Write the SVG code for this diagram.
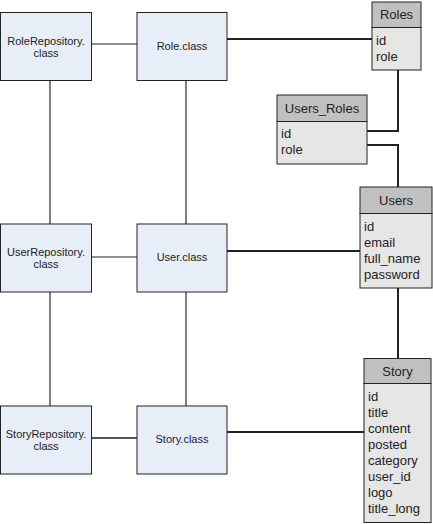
<svg xmlns="http://www.w3.org/2000/svg" width="433" height="524" viewBox="0 0 433 524">
<style>
.cls{fill:#e8eef8;stroke:#222;stroke-width:1}
.ct{font-family:"Liberation Sans",Arial,sans-serif;font-size:11px;fill:#222;text-anchor:middle}
.th{fill:#c0c0c0;stroke:#222;stroke-width:1}
.tb{fill:#e6e6e6;stroke:#222;stroke-width:1}
.tt{font-family:"Liberation Sans",Arial,sans-serif;font-size:13px;fill:#222}
.tc{text-anchor:middle}
.gl{stroke:#555;stroke-width:1.5;fill:none}
.bl{stroke:#222;stroke-width:2;fill:none}
</style>
<rect width="433" height="524" fill="#fff"/>
<g id="connectors">
<line class="gl" x1="50" y1="80" x2="50" y2="224"/>
<line class="gl" x1="50" y1="292" x2="50" y2="406"/>
<line class="gl" x1="186" y1="80" x2="186" y2="224"/>
<line class="gl" x1="186" y1="292" x2="186" y2="406"/>
<line class="bl" x1="91" y1="44" x2="137" y2="44" style="stroke-width:1.2"/>
<line class="bl" x1="91" y1="257" x2="137" y2="257" style="stroke-width:1.2"/>
<line class="gl" x1="91" y1="438" x2="137" y2="438" style="stroke-width:2"/>
<line class="bl" x1="227" y1="39" x2="372" y2="39"/>
<polyline class="bl" points="398,70 398,131 367,131"/>
<polyline class="bl" points="367,145 398,145 398,187"/>
<line class="bl" x1="227" y1="251" x2="360" y2="251"/>
<line class="bl" x1="398" y1="288" x2="398" y2="358"/>
<line class="bl" x1="227" y1="432" x2="364" y2="432"/>
</g>
<g id="RoleRepository">
<rect class="cls" x="0.5" y="12.5" width="91" height="68"/>
<text class="ct" x="46" y="45">RoleRepository.</text>
<text class="ct" x="46" y="57">class</text>
</g>
<g id="RoleClass">
<rect class="cls" x="137" y="12.5" width="90" height="68"/>
<text class="ct" x="182" y="50">Role.class</text>
</g>
<g id="UserRepository">
<rect class="cls" x="0.5" y="224" width="91" height="68"/>
<text class="ct" x="46" y="256">UserRepository.</text>
<text class="ct" x="46" y="268">class</text>
</g>
<g id="UserClass">
<rect class="cls" x="137" y="224" width="90" height="68"/>
<text class="ct" x="182" y="261">User.class</text>
</g>
<g id="StoryRepository">
<rect class="cls" x="0.5" y="406" width="91" height="68"/>
<text class="ct" x="46" y="438">StoryRepository.</text>
<text class="ct" x="46" y="450">class</text>
</g>
<g id="StoryClass">
<rect class="cls" x="137" y="406" width="90" height="68"/>
<text class="ct" x="182" y="443">Story.class</text>
</g>
<g id="Roles">
<rect class="th" x="372" y="2" width="49" height="25.5"/>
<rect class="tb" x="372" y="27.5" width="49" height="42.5"/>
<text class="tt tc" x="396.5" y="19">Roles</text>
<text class="tt" x="376" y="45">id</text>
<text class="tt" x="376" y="61">role</text>
</g>
<g id="Users_Roles">
<rect class="th" x="277" y="95" width="90" height="26.5"/>
<rect class="tb" x="277" y="121.5" width="90" height="42.5"/>
<text class="tt tc" x="322" y="113">Users_Roles</text>
<text class="tt" x="281" y="138">id</text>
<text class="tt" x="281" y="154">role</text>
</g>
<g id="Users">
<rect class="th" x="360" y="187" width="72" height="26.5"/>
<rect class="tb" x="360" y="213.5" width="72" height="74.5"/>
<text class="tt tc" x="396" y="205">Users</text>
<text class="tt" x="364" y="231">id</text>
<text class="tt" x="364" y="247">email</text>
<text class="tt" x="364" y="263">full_name</text>
<text class="tt" x="364" y="279">password</text>
</g>
<g id="Story">
<rect class="th" x="364" y="358.5" width="67" height="25"/>
<rect class="tb" x="364" y="383.5" width="67" height="139"/>
<text class="tt tc" x="397.5" y="376">Story</text>
<text class="tt" x="368" y="401">id</text>
<text class="tt" x="368" y="417">title</text>
<text class="tt" x="368" y="433">content</text>
<text class="tt" x="368" y="449">posted</text>
<text class="tt" x="368" y="465">category</text>
<text class="tt" x="368" y="481">user_id</text>
<text class="tt" x="368" y="497">logo</text>
<text class="tt" x="368" y="513">title_long</text>
</g>
</svg>
